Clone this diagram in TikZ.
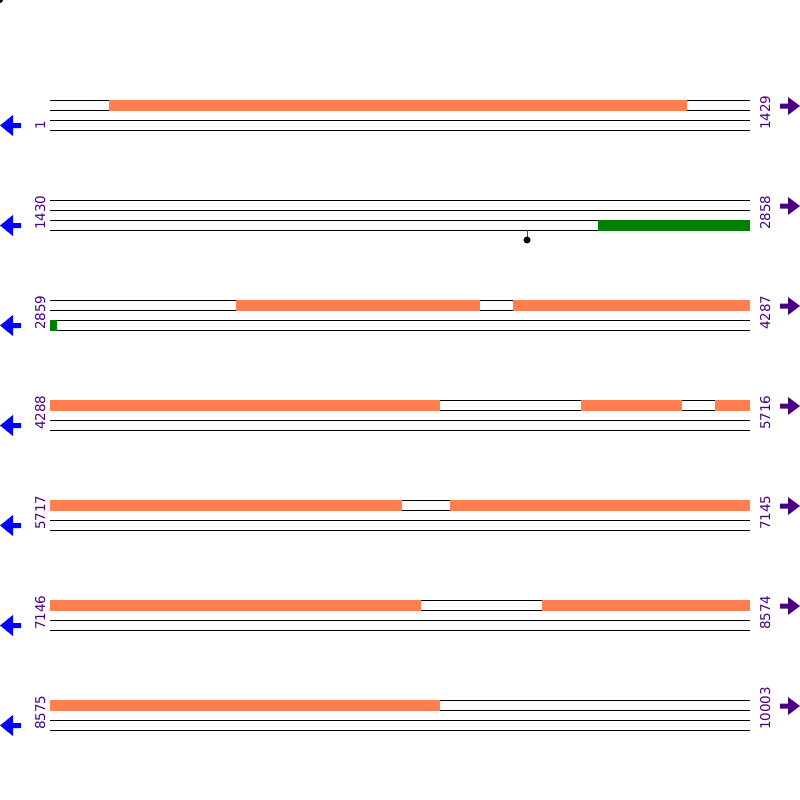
\documentclass[tikz,border=0pt]{standalone}
\usepackage{fontspec}
\setmainfont{DejaVu Sans}
\definecolor{coralc}{HTML}{FF7F50}
\definecolor{greenc}{HTML}{008000}
\definecolor{indigoc}{HTML}{4B0082}
\definecolor{bluec}{HTML}{0000FF}
\begin{document}
\begin{tikzpicture}[x=1pt,y=-1pt,
  track/.style={black,line width=1pt},
  orangebox/.style={fill=coralc},
  greenbox/.style={fill=greenc},
  numlabel/.style={rotate=90,anchor=base west,inner sep=0pt,text=indigoc,font=\fontsize{13.5}{14}\selectfont},
  larrow/.style={fill=bluec},
  rarrow/.style={fill=indigoc}]
\useasboundingbox (0,0) rectangle (800,800);
\begin{scope}
\clip (0,0) rectangle (800,800);
\fill[black] (0,0) circle (3);
\end{scope}
% tracks and labels
\foreach \r/\l/\rr [count=\i] in {100/1/1429,200/1430/2858,300/2859/4287,400/4288/5716,500/5717/7145,600/7146/8574,700/8575/10003}{
  \foreach \d in {0,10,20,30}{\draw[track] (50,\r+\d) -- (750,\r+\d);}
  \node[numlabel] (L\i) at (45,\r+30) {\l};
  \node[numlabel] (R\i) at (770,\r+30) {\rr};
  \fill[larrow] (0,\r+25.5) -- (13,\r+15) -- (13,\r+23) -- (21,\r+23) -- (21,\r+28) -- (13,\r+28) -- (13,\r+36) -- cycle;
  \fill[rarrow] (800,\r+6) -- (788,\r-3) -- (788,\r+3.5) -- (780,\r+3.5) -- (780,\r+8.5) -- (788,\r+8.5) -- (788,\r+15) -- cycle;
}
% orange blocks
\fill[orangebox] (109,99.5) rectangle (687,110.5);
\fill[orangebox] (236,299.5) rectangle (480,310.5);
\fill[orangebox] (513,299.5) rectangle (750,310.5);
\fill[orangebox] (50,399.5) rectangle (440,410.5);
\fill[orangebox] (581,399.5) rectangle (682,410.5);
\fill[orangebox] (715,399.5) rectangle (750,410.5);
\fill[orangebox] (50,499.5) rectangle (402,510.5);
\fill[orangebox] (450,499.5) rectangle (750,510.5);
\fill[orangebox] (50,599.5) rectangle (421,610.5);
\fill[orangebox] (542,599.5) rectangle (750,610.5);
\fill[orangebox] (50,699.5) rectangle (440,710.5);
% green blocks
\fill[greenbox] (598,219.5) rectangle (750,230.5);
\fill[greenbox] (50,319.5) rectangle (57,330.5);
% lollipop
\coordinate (lpbase) at (527,230);
\coordinate (lphead) at (527,240);
\draw[red,line width=1pt] (lpbase) -- (lphead);
\fill[black] (lphead) circle (3.5);
\end{tikzpicture}
\end{document}
